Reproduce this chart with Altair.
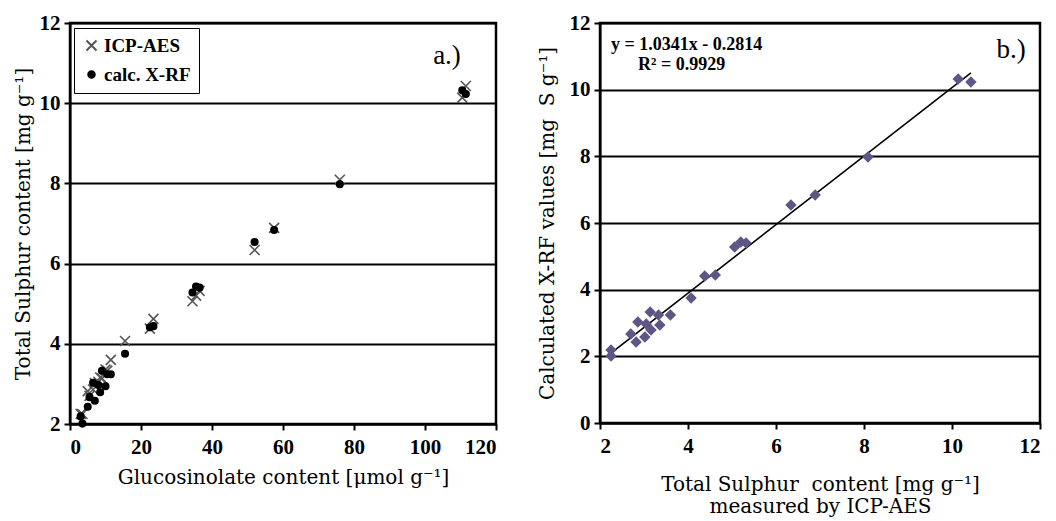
import altair as alt
import pandas as pd

# ---- data ----
gluc = [110.5, 111.5, 76.0, 57.5, 52.0, 34.5, 35.5, 36.5, 22.5, 23.5, 15.5, 11.5,
        3.0, 3.5, 5.5, 5.0, 6.5, 7.0, 8.0, 9.0, 8.5, 10.5, 10.0]
icp = [10.14, 10.43, 8.09, 6.89, 6.34, 5.06, 5.20, 5.32, 4.38, 4.62, 4.07, 3.60,
       2.25, 2.25, 2.70, 2.82, 2.86, 3.02, 3.05, 3.14, 3.16, 3.33, 3.36]
xrf = [10.32, 10.23, 7.98, 6.84, 6.54, 5.28, 5.43, 5.40, 4.41, 4.44, 3.75, 3.24,
       2.19, 2.01, 2.67, 2.43, 3.03, 2.58, 2.97, 3.33, 2.79, 3.24, 2.94]
series_names = ["ICP-AES", "calc. X-RF"]
left_xticks = [0, 20, 40, 60, 80, 100, 120]
left_yticks = [2, 4, 6, 8, 10, 12]
right_xticks = [2, 4, 6, 8, 10, 12]
right_yticks = [0, 2, 4, 6, 8, 10, 12]

SERIF = "Liberation Serif"
TSERIF = "DejaVu Serif"
XPATH = "M-1,-1L1,1M-1,1L1,-1"
NB = "\u00a0"

n = len(gluc)
left_df = pd.DataFrame({
    "g": gluc * 2,
    "s": icp + xrf,
    "series": [series_names[0]] * n + [series_names[1]] * n,
})
right_df = pd.DataFrame({"icp": icp, "xrf": xrf})


def axis(values, title, grid, title_pad=6, label_pad=4):
    return alt.Axis(
        values=values, title=title, grid=grid, gridColor="black", gridWidth=2,
        gridOpacity=1, domainColor="black", domainWidth=2, tickColor="black",
        tickWidth=2, tickSize=6, labelFont=SERIF, labelFontWeight="bold",
        labelFontSize=21, labelColor="black", labelPadding=label_pad, titleFont=TSERIF,
        titleFontWeight="normal", titleFontSize=20, titleColor="black",
        titlePadding=title_pad,
    )


leg = alt.Legend(
    title=None, orient="none", legendX=4, legendY=5, strokeColor="black",
    padding=8, labelFont=SERIF, labelFontWeight="bold", labelFontSize=19,
    labelColor="black", rowPadding=9, symbolStrokeWidth=2, labelOffset=3,
)
dom = series_names

left_points = alt.Chart(left_df).mark_point(filled=False, strokeWidth=1.6, opacity=1).encode(
    x=alt.X("g:Q", scale=alt.Scale(domain=[0, 120], nice=False),
            axis=axis(left_xticks, "Glucosinolate content [μmol g⁻¹]", False, 10, 6)),
    y=alt.Y("s:Q", scale=alt.Scale(domain=[2, 12], nice=False),
            axis=axis(left_yticks, "Total Sulphur content [mg g⁻¹]", True)),
    shape=alt.Shape("series:N", scale=alt.Scale(domain=dom, range=[XPATH, "circle"]), legend=leg),
    color=alt.Color("series:N", scale=alt.Scale(domain=dom, range=["#555555", "#000000"]), legend=leg),
    fill=alt.Fill("series:N", scale=alt.Scale(domain=dom, range=["transparent", "#000000"]), legend=leg),
    size=alt.Size("series:N", scale=alt.Scale(domain=dom, range=[100, 42]), legend=leg),
)

label_a = alt.Chart(pd.DataFrame({"t": ["a.)"]})).mark_text(
    font=SERIF, fontSize=27, color="black", align="center", baseline="middle"
).encode(text="t:N", x=alt.value(377), y=alt.value(33))

left = alt.layer(left_points, label_a).properties(width=426, height=401)

diamonds = alt.Chart(right_df).mark_point(
    shape="diamond", filled=True, size=130, color="#5f5685", opacity=1
).encode(
    x=alt.X("icp:Q", scale=alt.Scale(domain=[2, 12], nice=False),
            axis=axis(right_xticks,
                      ["Total Sulphur" + NB + " content [mg g⁻¹]", "measured by ICP-AES"],
                      False, 18, 6)),
    y=alt.Y("xrf:Q", scale=alt.Scale(domain=[0, 12], nice=False),
            axis=axis(right_yticks, "Calculated X-RF values [mg" + NB + " S g⁻¹]", True, 12)),
)

fit = alt.Chart(right_df).transform_regression("icp", "xrf").mark_line(
    color="black", strokeWidth=1.6
).encode(x="icp:Q", y="xrf:Q")

eq_df = pd.DataFrame({"t": ["y = 1.0341x - 0.2814", "R² = 0.9929"], "px": [11, 38], "py": [22, 42]})
eq = alt.Chart(eq_df).mark_text(
    font=SERIF, fontSize=18, fontWeight="bold", color="black", align="left", baseline="middle"
).encode(text="t:N", x=alt.X("px:Q", scale=None), y=alt.Y("py:Q", scale=None))

label_b = alt.Chart(pd.DataFrame({"t": ["b.)"]})).mark_text(
    font=SERIF, fontSize=27, color="black", align="center", baseline="middle"
).encode(text="t:N", x=alt.value(411), y=alt.value(27))

right = alt.layer(fit, diamonds, eq, label_b).properties(width=440, height=400)

chart = alt.hconcat(left, right, spacing=36).properties(
    padding={"left": 3, "top": 2, "right": 0, "bottom": 0}, background="white"
).configure_view(stroke="black", strokeWidth=2.5).configure_axis(titleLineHeight=22)

chart.save("out.html", embed_options={"renderer": "svg", "actions": False})
